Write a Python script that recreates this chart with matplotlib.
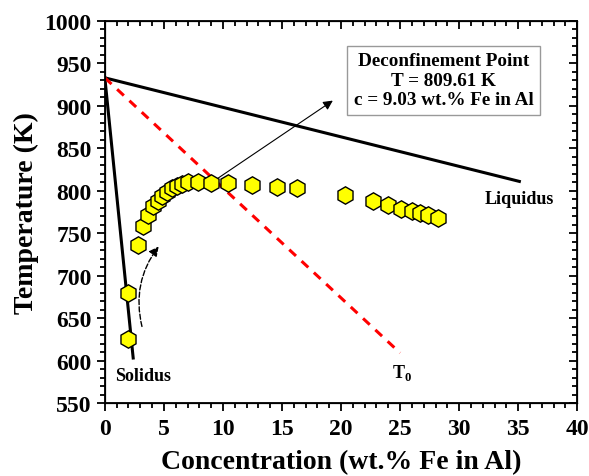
import numpy as np
import matplotlib
matplotlib.use('Agg')
import matplotlib.pyplot as plt
from matplotlib.ticker import MultipleLocator

plt.rcParams['font.family'] = ['Liberation Serif', 'DejaVu Serif']
plt.rcParams['font.weight'] = 'bold'
plt.rcParams['mathtext.fontset'] = 'custom'
plt.rcParams['mathtext.rm'] = 'Liberation Serif:bold'
plt.rcParams['mathtext.bf'] = 'Liberation Serif:bold'

# measured points (concentration, temperature)
conc = [1.95, 1.95, 2.8, 3.2, 3.65, 4.1, 4.5, 4.85, 5.25, 5.7, 6.1, 6.5, 7.05, 7.9,
        9.03, 10.4, 12.5, 14.6, 16.3, 20.3, 22.7, 24.0, 25.1, 26.0, 26.7, 27.4, 28.2]
temp = [625, 680, 736, 759, 772, 782, 788, 794, 799, 803, 806, 808, 810, 810,
        809.61, 809, 807, 805, 803, 795, 788, 783, 779, 776, 774, 771, 768]

liquidus_c = [0, 35.1]
liquidus_t = [933, 811]
solidus_c = [0, 2.4]
solidus_t = [933, 603]
t0_c = [0, 25.0]
t0_t = [933, 609]

fig = plt.figure(figsize=(5.89, 4.77), dpi=100)
ax = fig.add_axes([0.178, 0.153, 0.802, 0.801])

ax.plot(liquidus_c, liquidus_t, color='black', lw=2.2)
ax.plot(solidus_c, solidus_t, color='black', lw=2.2)
ax.plot(t0_c, t0_t, color='red', lw=2.2, ls=(0, (3, 2.5)))
ax.plot(conc, temp, ls='none', marker='h', markersize=12.5, markerfacecolor='#ffff00',
        markeredgecolor='black', markeredgewidth=1.0, zorder=5)

ax.set_xlim(0, 40)
ax.set_ylim(550, 1000)
ax.xaxis.set_major_locator(MultipleLocator(5))
ax.xaxis.set_minor_locator(MultipleLocator(1))
ax.yaxis.set_major_locator(MultipleLocator(50))
ax.yaxis.set_minor_locator(MultipleLocator(10))
ax.tick_params(which='both', direction='out', labelsize=17, width=1.3)
ax.tick_params(which='major', length=6)
ax.tick_params(which='minor', length=3.5)
ax.tick_params(axis='x', which='major', pad=5)
for s in ax.spines.values():
    s.set_linewidth(1.3)

# inward ticks on top and right
axt = ax.twiny()
axt.set_xlim(ax.get_xlim())
axt.xaxis.set_major_locator(MultipleLocator(5))
axt.xaxis.set_minor_locator(MultipleLocator(1))
axt.tick_params(which='both', direction='in', labeltop=False, width=1.3)
axt.tick_params(which='major', length=6)
axt.tick_params(which='minor', length=3.5)
axr = ax.twinx()
axr.set_ylim(ax.get_ylim())
axr.yaxis.set_major_locator(MultipleLocator(50))
axr.yaxis.set_minor_locator(MultipleLocator(10))
axr.tick_params(which='both', direction='in', labelright=False, width=1.3)
axr.tick_params(which='major', length=6)
axr.tick_params(which='minor', length=3.5)

ax.set_xlabel('Concentration (wt.% Fe in Al)', fontsize=20, fontweight='bold', labelpad=7)
ax.set_ylabel('Temperature (K)', fontsize=20, fontweight='bold', labelpad=4)

ax.text(3.2, 583, 'Solidus', fontsize=13, ha='center', va='center')
ax.text(35.1, 791, 'Liquidus', fontsize=13, ha='center', va='center')
ax.text(25.2, 586, r'T$_\mathbf{0}$', fontsize=13, ha='center', va='center')

ax.text(28.7, 930, 'Deconfinement Point\nT = 809.61 K\nc = 9.03 wt.% Fe in Al',
        fontsize=13.8, ha='center', va='center', linespacing=1.2,
        bbox=dict(boxstyle='square,pad=0.35', fc='white', ec='#999999', lw=1.0))

ax.annotate('', xy=(19.5, 908), xytext=(9.03, 809.61),
            arrowprops=dict(arrowstyle='-|>', color='black', lw=0.8, mutation_scale=14))
ax.annotate('', xy=(4.7, 737), xytext=(3.2, 637),
            arrowprops=dict(arrowstyle='-|>', color='black', lw=1.0, ls='--',
                            mutation_scale=14, connectionstyle='arc3,rad=-0.25'))

fig.savefig('out.png', dpi=100)
